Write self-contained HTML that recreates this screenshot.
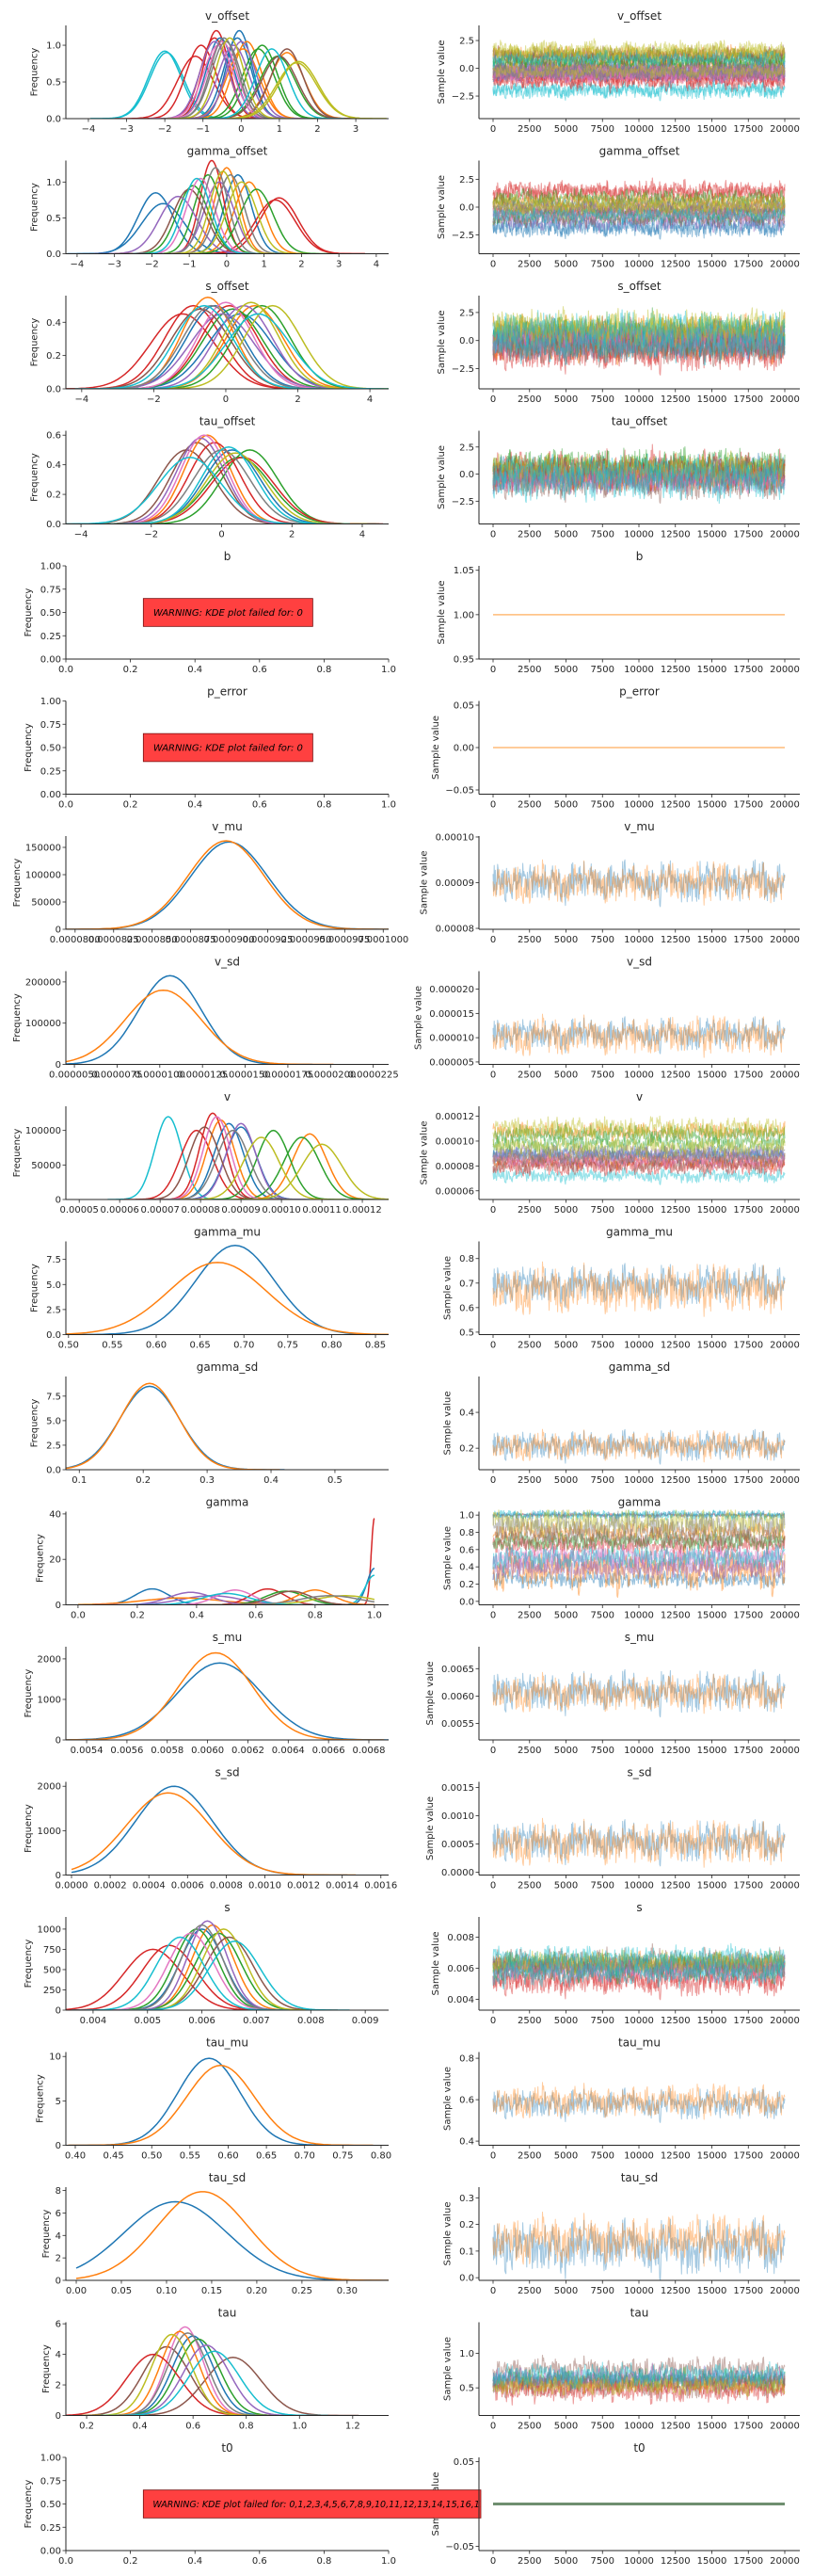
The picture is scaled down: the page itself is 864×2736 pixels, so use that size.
<!DOCTYPE html>
<html><head><meta charset="utf-8"><title>Trace plot</title>
<style>
html,body{margin:0;padding:0;background:#fff;}
svg{display:block;font-family:"DejaVu Sans","Liberation Sans",sans-serif;}
</style></head>
<body>
<svg id="fig" width="864" height="2736" viewBox="0 0 864 2736" xmlns="http://www.w3.org/2000/svg"></svg>
<script>
// ---- data ----
const titles = ["v_offset","gamma_offset","s_offset","tau_offset","b","p_error","v_mu","v_sd","v","gamma_mu","gamma_sd","gamma","s_mu","s_sd","s","tau_mu","tau_sd","tau","t0"];
const kdeXLim = [[-4.59,3.86],[-4.3,4.33],[-4.44,4.52],[-4.43,4.75],[0,1],[0,1],[7.94e-5,1.0035e-4],[4.5e-6,2.34e-5],[4.67e-5,1.265e-4],[0.497,0.865],[0.079,0.584],[-0.041,1.048],[0.005297,0.006898],[-0.0000292,0.00164],[0.0035,0.00943],[0.3877,0.8099],[-0.0115,0.346],[0.122,1.335],[0,1]];
const kdeYMax = [1.27,1.3,0.56,0.63,1,1,170700,226000,135000,9.3,9.5,41,2300,2100,1150,10.5,8.3,6.1,1];
const kdeXTicks = [
 ["−4","−3","−2","−1","0","1","2","3"],
 ["−4","−3","−2","−1","0","1","2","3","4"],
 ["−4","−2","0","2","4"],
 ["−4","−2","0","2","4"],
 ["0.0","0.2","0.4","0.6","0.8","1.0"],
 ["0.0","0.2","0.4","0.6","0.8","1.0"],
 ["0.0000800","0.0000825","0.0000850","0.0000875","0.0000900","0.0000925","0.0000950","0.0000975","0.0001000"],
 ["0.0000050","0.0000075","0.0000100","0.0000125","0.0000150","0.0000175","0.0000200","0.0000225"],
 ["0.00005","0.00006","0.00007","0.00008","0.00009","0.00010","0.00011","0.00012"],
 ["0.50","0.55","0.60","0.65","0.70","0.75","0.80","0.85"],
 ["0.1","0.2","0.3","0.4","0.5"],
 ["0.0","0.2","0.4","0.6","0.8","1.0"],
 ["0.0054","0.0056","0.0058","0.0060","0.0062","0.0064","0.0066","0.0068"],
 ["0.0000","0.0002","0.0004","0.0006","0.0008","0.0010","0.0012","0.0014","0.0016"],
 ["0.004","0.005","0.006","0.007","0.008","0.009"],
 ["0.40","0.45","0.50","0.55","0.60","0.65","0.70","0.75","0.80"],
 ["0.00","0.05","0.10","0.15","0.20","0.25","0.30"],
 ["0.2","0.4","0.6","0.8","1.0","1.2"],
 ["0.0","0.2","0.4","0.6","0.8","1.0"]];
const kdeYTicks = [
 ["0.0","0.5","1.0"],["0.0","0.5","1.0"],["0.0","0.2","0.4"],["0.0","0.2","0.4","0.6"],
 ["0.00","0.25","0.50","0.75","1.00"],["0.00","0.25","0.50","0.75","1.00"],
 ["0","50000","100000","150000"],["0","100000","200000"],["0","50000","100000"],
 ["0.0","2.5","5.0","7.5"],["0.0","2.5","5.0","7.5"],["0","20","40"],
 ["0","1000","2000"],["0","1000","2000"],["0","250","500","750","1000"],
 ["0","5","10"],["0","2","4","6","8"],["0","2","4","6"],
 ["0.00","0.25","0.50","0.75","1.00"]];
// KDE curves: means, peak heights, colour index (per row)
const kdeMeans = [
 [-2.0,-1.95,-1.2,-1.05,-0.65,-0.7,-0.05,-0.1,-0.55,0.15,0.05,1.2,0.55,0.95,0.45,-0.2,-0.7,0.0,1.2,1.0,-0.6,-0.5,-0.45,-0.4,1.5,1.45,-0.3,0.8],
 [-1.9,-1.7,0.3,0.0,0.6,1.3,-0.4,1.4,-0.5,0.8,-0.9,-1.3,-0.2,-1.0,-0.7,-0.3,0.1,0.4,-0.1,-0.8],
 [-1.2,-0.9,0.1,-0.3,0.4,-0.5,0.8,1.0,0.2,-0.1,0.5,-0.7,0.0,-0.4,1.3,0.7,0.9,-0.6],
 [-1.0,-0.7,0.3,-0.4,0.8,0.5,-0.2,0.6,-0.6,-0.5,0.0,0.4,0.2,-0.9],
 [],[],
 [9.0e-5,8.98e-5],
 [1.06e-5,1.02e-5],
 [7.2e-5,7.9e-5,8.3e-5,8.7e-5,9.0e-5,8.5e-5,1.07e-4,9.8e-5,1.05e-4,9.0e-5,8.1e-5,8.4e-5,8.8e-5,1.1e-4,9.5e-5],
 [0.69,0.67],
 [0.21,0.21],
 [1.0,1.0,1.0,0.25,0.45,0.35,0.64,0.7,0.38,0.8,0.53,0.9,0.5,0.72,0.85],
 [0.00606,0.00604],
 [0.00053,0.0005],
 [0.0051,0.0054,0.006,0.0062,0.0063,0.0059,0.0061,0.0065,0.0058,0.006,0.0064,0.0066,0.0056],
 [0.575,0.59],
 [0.11,0.14],
 [0.5,0.75,0.57,0.6,0.55,0.62,0.45,0.65,0.58,0.52,0.68],
 []];
const kdePeaks = [
 [0.92,0.9,0.85,1.0,1.2,1.1,1.2,1.1,1.1,1.05,0.95,0.9,1.0,0.85,0.95,1.0,1.05,1.05,0.95,0.85,1.0,1.05,1.1,1.05,0.78,0.76,1.1,0.95],
 [0.85,0.7,1.1,1.2,1.0,0.75,1.3,0.78,1.1,0.9,0.95,0.8,1.0,0.9,1.05,1.2,1.1,1.0,1.15,1.05],
 [0.45,0.5,0.5,0.5,0.45,0.55,0.5,0.5,0.48,0.45,0.5,0.48,0.52,0.5,0.5,0.52,0.45,0.5],
 [0.5,0.55,0.5,0.6,0.5,0.45,0.55,0.45,0.58,0.6,0.5,0.48,0.52,0.45],
 [],[],
 [160000,162000],
 [215000,180000],
 [120000,100000,125000,110000,105000,115000,95000,100000,90000,110000,105000,120000,100000,80000,90000],
 [8.9,7.2],
 [8.5,8.8],
 [38,16,13,7,4,3,7,6,5.5,6.5,6.5,4,5,6,4],
 [1900,2150],
 [2000,1850],
 [750,800,1000,1050,950,1000,1100,900,950,1050,1000,850,900],
 [9.8,9.0],
 [7,7.9],
 [4.5,3.8,5.8,5.2,5.5,5.0,4.0,4.6,5.4,5.3,4.2],
 []];
const kdeColors = [
 [9,9,3,3,3,3,0,0,0,1,1,1,2,2,2,4,4,4,5,5,6,6,7,7,8,8,8,9],
 [0,0,0,1,1,3,3,3,2,2,2,4,4,5,6,7,7,8,8,9],
 [3,3,3,0,0,1,1,2,2,4,4,5,6,7,8,8,9,9],
 [5,5,0,1,2,2,3,3,4,6,7,8,9,9],
 [],[],[0,1],[0,1],
 [9,3,3,0,0,1,1,2,2,4,5,6,7,8,8],
 [0,1],[0,1],
 [3,0,9,0,4,1,3,2,4,1,6,8,9,5,7],
 [0,1],[0,1],
 [3,3,0,1,2,2,4,5,6,7,8,9,9],
 [0,1],[0,1],
 [5,5,6,0,1,2,3,4,7,8,9],
 []];
const kdeClip = [null,null,null,null,null,null,null,null,null,null,null,[0,1],null,[0,null],null,null,[0,null],null,null];
// trace panel
const traceYLim = [[-4.53,3.86],[-4.2,4.2],[-4.3,4.0],[-4.6,4.0],[0.95,1.055],[-0.055,0.055],[7.98e-5,1.002e-4],[4.5e-6,2.37e-5],[5.3e-5,1.28e-4],[0.49,0.87],[0.08,0.6],[-0.04,1.04],[0.0052,0.0069],[-0.00005,0.0016],[0.0033,0.0093],[0.38,0.83],[-0.01,0.34],[0.1,1.45],[-0.055,0.055]];
const traceYTicks = [
 ["−2.5","0.0","2.5"],["−2.5","0.0","2.5"],["−2.5","0.0","2.5"],["−2.5","0.0","2.5"],
 ["0.95","1.00","1.05"],["−0.05","0.00","0.05"],
 ["0.00008","0.00009","0.00010"],["0.000005","0.000010","0.000015","0.000020"],
 ["0.00006","0.00008","0.00010","0.00012"],["0.5","0.6","0.7","0.8"],["0.2","0.4"],
 ["0.0","0.2","0.4","0.6","0.8","1.0"],["0.0055","0.0060","0.0065"],
 ["0.0000","0.0005","0.0010","0.0015"],["0.004","0.006","0.008"],["0.4","0.6","0.8"],
 ["0.0","0.1","0.2","0.3"],["0.5","1.0"],["−0.05","0.00","0.05"]];
const traceXTicks = ["0","2500","5000","7500","10000","12500","15000","17500","20000"];
const traceXLim = [-968,21032];
const constValues = [null,null,null,null,1,0,null,null,null,null,null,null,null,null,null,null,null,null,0];
const warnings = [null,null,null,null,"WARNING: KDE plot failed for: 0","WARNING: KDE plot failed for: 0",null,null,null,null,null,null,null,null,null,null,null,null,"WARNING: KDE plot failed for: 0,1,2,3,4,5,6,7,8,9,10,11,12,13,14,15,16,17"];
// sampled chain fluctuation pattern (read as normalised deviations)
const noise = [0.3,-0.5,0.8,-0.2,0.1,-0.9,0.6,0.4,-0.7,0.2,0.9,-0.3,-0.6,0.5,0.0,-0.8,0.7,-0.1,0.3,-0.4,1.0,-0.6,0.2,0.5,-0.9,0.1,0.6,-0.3,-0.2,0.8,-0.7,0.4,-0.5,0.9,-0.1,0.2,-0.8,0.5,0.3,-0.4,0.7,-0.9,0.0,0.6,-0.2,0.4,-0.6,0.8,-0.3,0.1,-0.7,0.9,0.2,-0.5,0.5,-0.1,-0.8,0.3,0.7,-0.4,0.1,-0.6,0.8,-0.2,0.45,-0.35,0.65,-0.75,0.15];

const palette = ['#1f77b4','#ff7f0e','#2ca02c','#d62728','#9467bd','#8c564b','#e377c2','#7f7f7f','#bcbd22','#17becf'];

// ---- layout ----
const svg = document.getElementById('fig');
const NS = 'http://www.w3.org/2000/svg';
const L = {x0:70,x1:413}, R = {x0:509,x1:850};
const rowTop = i => 27 + 143.5*i, AH = 99;
function mk(tag, attrs, parent){const e=document.createElementNS(NS,tag);for(const k in attrs)e.setAttribute(k,attrs[k]);(parent||svg).appendChild(e);return e;}
function num(s){return parseFloat(s.replace('−','-'));}
function txt(x,y,s,anchor,size,parent,extra){const t=mk('text',Object.assign({x:x,y:y,'text-anchor':anchor,'font-size':size,fill:'#262626'},extra||{}),parent);t.textContent=s;return t;}

function axes(g,box,top,xlim,ylim,xt,yt,ylabel,title){
  const sx=v=>box.x0+(v-xlim[0])/(xlim[1]-xlim[0])*(box.x1-box.x0);
  const sy=v=>top+AH-(v-ylim[0])/(ylim[1]-ylim[0])*AH;
  const t=txt((box.x0+box.x1)/2,top-6,title,'middle',12,g);
  
  
  xt.forEach(s=>{const v=num(s),x=sx(v);mk('line',{x1:x,x2:x,y1:top+AH,y2:top+AH+3.5,stroke:'#262626','stroke-width':0.8},g);
    const l=txt(x,top+AH+14,s,'middle',10,g);
    
    });
  yt.forEach(s=>{const v=num(s),y=sy(v);mk('line',{x1:box.x0-3.5,x2:box.x0,y1:y,y2:y,stroke:'#262626','stroke-width':0.8},g);
    const l=txt(box.x0-5,y+3.5,s,'end',10,g);
    
    });
  let longest=Math.max(...yt.map(s=>s.length));
  const lx=box.x0-12-longest*6.2;
  const yl=txt(lx,top+AH/2,ylabel,'middle',10,g,{transform:`rotate(-90 ${lx} ${top+AH/2})`});
  
  
  return {sx,sy};
}
function spines(g,box,top){
  mk('line',{x1:box.x0,x2:box.x0,y1:top,y2:top+AH,stroke:'#262626','stroke-width':1},g);
  mk('line',{x1:box.x0,x2:box.x1,y1:top+AH,y2:top+AH,stroke:'#262626','stroke-width':1},g);
}
const defs = mk('defs',{});

titles.forEach((name,i)=>{
  const top=rowTop(i);
  mk('clipPath',{id:'cl'+i},defs);
  mk('rect',{x:L.x0,y:top-2,width:L.x1-L.x0,height:AH+2},defs.lastChild);
  mk('clipPath',{id:'cr'+i},defs);
  mk('rect',{x:R.x0,y:top-2,width:R.x1-R.x0,height:AH+2},defs.lastChild);
  // ---- KDE panel ----
  const gl=mk('g',{});
  
  
  const A=axes(gl,L,top,kdeXLim[i],[0,kdeYMax[i]],kdeXTicks[i],kdeYTicks[i],'Frequency',name);
  const gk=mk('g',{'clip-path':`url(#cl${i})`},gl);
  kdeMeans[i].forEach((m,j)=>{
    const p=kdePeaks[i][j], sd=0.3989/p;
    let a=m-4.5*sd,b=m+4.5*sd;
    const c=kdeClip[i];
    if(c){if(c[0]!=null)a=Math.max(a,c[0]);if(c[1]!=null)b=Math.min(b,c[1]);}
    const pts=[];
    for(let k=0;k<=80;k++){const x=a+(b-a)*k/80;const y=p*Math.exp(-0.5*((x-m)/sd)**2);pts.push(A.sx(x).toFixed(1)+','+A.sy(y).toFixed(1));}
    const pl=mk('polyline',{points:pts.join(' '),fill:'none',stroke:palette[kdeColors[i][j]],'stroke-width':1.5},gk);
    
    
  });
  spines(gl,L,top);
  // ---- trace panel ----
  const gr=mk('g',{});
  
  
  const B=axes(gr,R,top,traceXLim,traceYLim[i],traceXTicks,traceYTicks[i],'Sample value',name);
  const gt=mk('g',{'clip-path':`url(#cr${i})`},gr);
  if(constValues[i]!==null){
    const y=B.sy(constValues[i]);
    const ln=mk('line',{x1:B.sx(0),x2:B.sx(20000),y1:y,y2:y,stroke:i===18?'#6f8f70':'#ffbb78','stroke-width':i===18?3:1.5},gt);
    
    
  } else {
    const multi=kdeMeans[i].length>2;
    kdeMeans[i].forEach((m,j)=>{
      const sd=0.3989/kdePeaks[i][j], s=2.3*sd, pts=[];
      const N=520;
      for(let k=0;k<=N;k++){
        const w=0.55*noise[(k*5+j*7)%69]+0.3*noise[(Math.floor(k/4)+j*11)%69]+0.25*noise[(Math.floor(k/23)+j*3)%69];
        pts.push(B.sx(20000*k/N).toFixed(1)+','+B.sy(m+s*w).toFixed(1));
      }
      const pl=mk('polyline',{points:pts.join(' '),fill:'none',stroke:palette[kdeColors[i][j]],'stroke-width':multi?1.1:1,'stroke-opacity':multi?0.45:0.4,'stroke-linejoin':'round'},gt);
      
      
    });
  }
  spines(gr,R,top);
  // ---- warning box ----
  if(warnings[i]){
    const gw=mk('g',{});
    
    
    const x0=A.sx(0.24), x1=i===18?511:A.sx(0.765);
    const y0=A.sy(0.65), y1=A.sy(0.35);
    mk('clipPath',{id:'wc'+i},gw);
    mk('rect',{x:x0,y:y0,width:x1-x0,height:y1-y0},gw.lastChild);
    mk('rect',{x:x0,y:y0,width:x1-x0,height:y1-y0,fill:'#ff4040',stroke:'#7a1010','stroke-width':0.8},gw);
    const t=txt(x0+(i===18?10:(x1-x0)/2),(y0+y1)/2+3.5,warnings[i],i===18?'start':'middle',i===18?9.5:10,gw,{'font-style':'italic',fill:'#000','clip-path':`url(#wc${i})`});
    
    
    if(i===18) mk('line',{x1:R.x0,x2:R.x0,y1:top,y2:top+AH,stroke:'#262626','stroke-width':1},gw);
  }
});
</script>
</body></html>
